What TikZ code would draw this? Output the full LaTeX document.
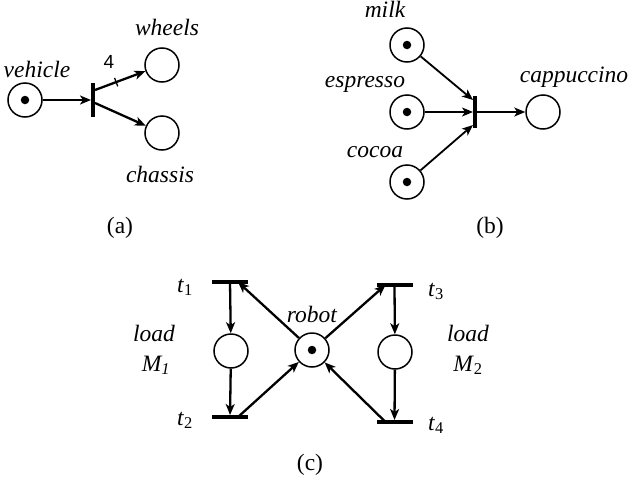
\documentclass[tikz,border=0pt]{standalone}
\usepackage{fontspec}
\setmainfont{Liberation Serif}[ItalicFont={Liberation Serif Italic}]
\newfontfamily\sansf{Liberation Sans}
\usetikzlibrary{arrows.meta,calc}
\begin{document}
\begin{tikzpicture}[x=1pt,y=-1pt,
  place/.style={circle,draw,line width=1.5pt,minimum size=34pt,inner sep=0pt},
  token/.style={circle,fill=black,minimum size=8.5pt,inner sep=0pt},
  vbar/.style={fill=black,minimum width=3.6pt,minimum height=#1,inner sep=0pt},
  hbar/.style={fill=black,minimum height=3.6pt,minimum width=36pt,inner sep=0pt},
  arcA/.style={line width=2.3pt,-{Stealth[length=11pt,width=9pt,inset=3pt]}},
  arcB/.style={line width=1.8pt,-{Stealth[length=11pt,width=9pt,inset=3pt]}},
  lab/.style={font=\fontsize{23.5}{28}\selectfont\itshape,inner sep=0pt,anchor=base},
  captxt/.style={font=\fontsize{23.5}{28}\selectfont,inner sep=0pt,anchor=base}]
\useasboundingbox (0,0) rectangle (632,482);

% ---------- (a) ----------
\node[place] (vehicle) at (25,100) {};
\node[token] (vtok) at (vehicle.center) {};
\node[vbar=34pt] (ta) at (93,100) {};
\node[place] (wheels) at (162,65) {};
\node[place] (chassis) at (162,133) {};
\draw[arcA] (vehicle) -- (ta);
\draw[arcA] ([yshift=10pt]ta.east) -- coordinate[pos=0.42] (tk) (wheels);
\draw[arcA] ([yshift=-3pt]ta.east) -- (chassis);
\draw[line width=1.3pt] ($(tk)!4.5pt!90:(wheels)$) -- ($(tk)!4.5pt!-90:(wheels)$);
\node[lab] (lveh) at (37,77) {vehicle};
\node[lab] (lwh) at (167,35) {wheels};
\node[lab] (lch) at (160,182) {chassis};
\node[inner sep=0pt,anchor=base,font=\sansf\fontsize{19}{22}\selectfont] (l4) at (109,68) {4};
\node[captxt] (capa) at (120,233) {(a)};

% ---------- (b) ----------
\node[place] (milk) at (407,45) {};
\node[token] (mtok) at (milk.center) {};
\node[place] (espresso) at (407,112) {};
\node[token] (etok) at (espresso.center) {};
\node[place] (cocoa) at (407,182) {};
\node[token] (ctok) at (cocoa.center) {};
\node[vbar=32pt] (tb) at (475,112) {};
\node[place] (cappuccino) at (543,112) {};
\draw[arcB] (milk) -- ([yshift=12pt]tb.west);
\draw[arcB] (espresso) -- (tb);
\draw[arcB] (cocoa) -- ([yshift=-13pt]tb.west);
\draw[arcB] (tb) -- (cappuccino);
\node[lab] (lmilk) at (385,17) {milk};
\node[lab] (lesp) at (365,87) {espresso};
\node[lab] (lcoc) at (375,157) {cocoa};
\node[lab] (lcap) at (574,82) {cappuccino};
\node[captxt] (capb) at (490,233) {(b)};

% ---------- (c) ----------
\node[hbar] (t1) at (230,282) {};
\node[hbar] (t2) at (230,417) {};
\node[hbar] (t3) at (394.5,285) {};
\node[hbar] (t4) at (394.5,422) {};
\node[place] (m1) at (231,351) {};
\node[place] (robot) at (312,350) {};
\node[token] (rtok) at (robot.center) {};
\node[place] (m2) at (395,352) {};
\draw[arcA] (t1) -- (m1);
\draw[arcA] (m1) -- (t2);
\draw[arcA] (robot) -- ([xshift=8pt]t1.center);
\draw[arcA] ([xshift=8pt]t2.center) -- (robot);
\draw[arcA] (robot) -- ([xshift=-9pt]t3.center);
\draw[arcA] ([xshift=-9pt]t4.center) -- (robot);
\draw[arcA] (t3) -- (m2);
\draw[arcA] (m2) -- (t4);
\node[lab] (lt1) at (185,292) {t\textup{\textsubscript{1}}};
\node[lab] (lt2) at (185,425) {t\textup{\textsubscript{2}}};
\node[lab] (lt3) at (436,296) {t\textup{\textsubscript{3}}};
\node[lab] (lt4) at (436,430) {t\textup{\textsubscript{4}}};
\node[lab] (lrob) at (312,322) {robot};
\node[lab] (lload1) at (154,341) {load};
\node[lab] (lm1) at (156,371) {M\textsubscript{1}};
\node[lab] (lload2) at (468,341) {load};
\node[lab] (lm2) at (468,371) {M\textup{\textsubscript{2}}};
\node[captxt] (capc) at (310,470) {(c)};
\end{tikzpicture}
\end{document}
